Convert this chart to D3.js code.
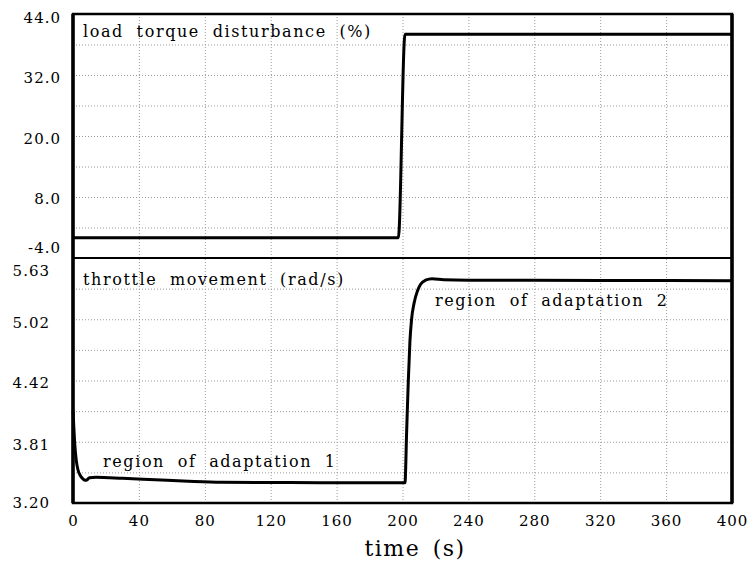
<!DOCTYPE html>
<head>
    <meta charset="utf-8">
    <title>Load torque and throttle</title>
    <style>
        body { margin: 0; background: #fff; }
        text { font-family: "DejaVu Serif", serif; fill: #000; }
        .tick text { font-size: 15px; letter-spacing: 1px; }
        .grid line { stroke: #9a9a9a; stroke-width: 1; stroke-dasharray: 1,2; }
        .grid path { display: none; }
        .lbl { font-size: 16px; letter-spacing: 1.6px; word-spacing: 6px; }
    </style>
    <script src="https://d3js.org/d3.v7.min.js"></script>
</head>
<body>
    <script>
        // load torque disturbance (%)
        var loadTime  = [0, 197.5, 201.5, 400];
        var loadValue = [0, 0, 40, 40];

        // throttle movement (rad/s)
        var throttleTime  = [0, 0.5, 1, 2, 3, 4.5, 6, 7.5, 8.5, 10, 14, 30, 50, 70, 90, 150, 201.5,
                             202.5, 203.5, 204.5, 205.5, 207, 209, 211, 214, 218, 225, 240, 320, 400];
        var throttleValue = [4.12, 3.95, 3.80, 3.62, 3.53, 3.47, 3.44, 3.425, 3.43, 3.45, 3.455, 3.445, 3.43, 3.415, 3.405, 3.402, 3.40,
                             3.90, 4.40, 4.80, 5.02, 5.18, 5.30, 5.37, 5.41, 5.425, 5.415, 5.41, 5.408, 5.405];

        var xTicks = [0, 40, 80, 120, 160, 200, 240, 280, 320, 360, 400];
        var loadTicks = [44, 32, 20, 8, -4];
        var throttleTicks = [5.63, 5.02, 4.42, 3.81, 3.20];

        var margin = { left: 73, right: 23 },
            W = 755, H = 562;

        var x = d3.scaleLinear().domain([0, 400]).range([margin.left, W - margin.right]);
        var yLoad = d3.scaleLinear().domain([-4, 44]).range([258, 14]);
        var yThr = d3.scaleLinear().domain([3.20, 5.63]).range([503, 258]);

        var svg = d3.select("body").append("svg")
            .attr("width", W)
            .attr("height", H);

        function panel(y, ticks, step, fmt, labelEnd, shifts) {
            var g = svg.append("g");
            var y0 = y.range()[0], y1 = y.range()[1];
            var lo = y.domain()[0], hi = y.domain()[1];
            var gridVals = d3.range(0, Math.round((hi - lo) / step) + 1).map(function (i) { return lo + i * step; });

            g.append("g").attr("class", "grid")
                .attr("transform", "translate(" + margin.left + ",0)")
                .call(d3.axisLeft(y).tickValues(gridVals).tickSize(-(x.range()[1] - margin.left)).tickFormat(""));
            g.append("g").attr("class", "grid")
                .attr("transform", "translate(0," + y0 + ")")
                .call(d3.axisBottom(x).tickValues(xTicks).tickSize(-(y0 - y1)).tickFormat(""));

            var ax = g.append("g")
                .attr("transform", "translate(" + labelEnd + ",0)")
                .call(d3.axisLeft(y).tickValues(ticks).tickSize(0).tickPadding(0).tickFormat(fmt));
            ax.select(".domain").remove();
            ax.selectAll(".tick text")
                .attr("dy", function (d, i) { return (0.32 + shifts[i]) + "em"; });
            return g;
        }

        var hyphen = function (f) { return function (d) { return f(d).replace("\u2212", "-"); }; };

        var top = panel(yLoad, loadTicks, 6, hyphen(d3.format(".1f")), 61, [0.22, 0.15, 0.15, 0.1, -0.7]);
        var bot = panel(yThr, throttleTicks, 0.30375, d3.format(".2f"), 50, [0.85, 0.2, 0.2, 0.2, 0]);

        var line = d3.line().curve(d3.curveMonotoneX);

        svg.append("path")
            .attr("d", line(loadTime.map(function (t, i) { return [x(t), yLoad(loadValue[i])]; })))
            .attr("fill", "none").attr("stroke", "#000").attr("stroke-width", 3);

        svg.append("path")
            .attr("d", line(throttleTime.map(function (t, i) { return [x(t), yThr(throttleValue[i])]; })))
            .attr("fill", "none").attr("stroke", "#000").attr("stroke-width", 3);

        // frames
        svg.append("rect").attr("x", x(0)).attr("y", yLoad(44)).attr("width", x(400) - x(0)).attr("height", yThr(3.20) - yLoad(44))
            .attr("fill", "none").attr("stroke", "#000").attr("stroke-width", 2.5);
        svg.append("line").attr("x1", x(0)).attr("x2", x(400)).attr("y1", yLoad(-4)).attr("y2", yLoad(-4))
            .attr("stroke", "#000").attr("stroke-width", 2);
        svg.append("line").attr("x1", x(0)).attr("x2", x(0)).attr("y1", yLoad(44)).attr("y2", yThr(3.20))
            .attr("stroke", "#000").attr("stroke-width", 3.5);
        svg.append("line").attr("x1", x(400)).attr("x2", x(400)).attr("y1", yLoad(44)).attr("y2", yThr(3.20))
            .attr("stroke", "#000").attr("stroke-width", 3.5);

        // x axis labels
        var xa = svg.append("g")
            .attr("transform", "translate(0," + yThr(3.20) + ")")
            .call(d3.axisBottom(x).tickValues(xTicks).tickSize(0).tickPadding(12).tickFormat(d3.format("d")));
        xa.select(".domain").remove();

        svg.append("text").attr("x", 415).attr("y", 556)
            .attr("text-anchor", "middle").style("font-size", "22px").style("letter-spacing", "1.5px")
            .style("word-spacing", "4px")
            .text("time (s)");

        svg.append("text").attr("class", "lbl").attr("x", 83).attr("y", 37).text("load torque disturbance (%)");
        svg.append("text").attr("class", "lbl").attr("x", 83).attr("y", 285).text("throttle movement (rad/s)");
        svg.append("text").attr("class", "lbl").attr("x", 435).attr("y", 306).text("region of adaptation 2");
        svg.append("text").attr("class", "lbl").attr("x", 103).attr("y", 467).text("region of adaptation 1");
    </script>
</body>
